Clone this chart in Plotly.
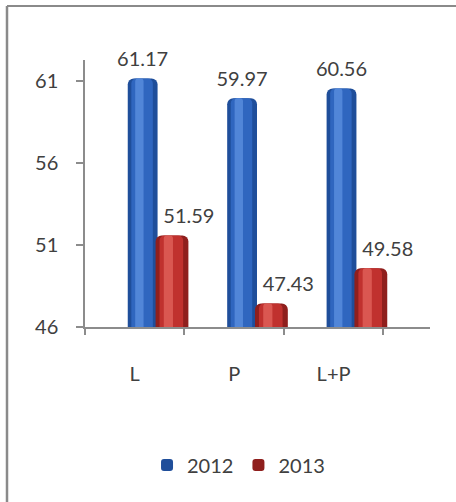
import plotly.graph_objects as go

categories = ["L", "P", "L+P"]
series_names = ["2012", "2013"]
values_2012 = [61.17, 59.97, 60.56]
values_2013 = [51.59, 47.43, 49.58]
y_ticks = [46, 51, 56, 61]

FONT = "Lato"
TXT = "#404040"
AX = "#8c8c8c"

idx = list(range(len(categories)))
bounds = [i - 0.5 for i in idx] + [idx[-1] + 0.5]

fig = go.Figure()

def cyl(vals, name, offset, width, dark, mid, light, label_dx):
    fig.add_trace(go.Bar(
        x=idx, y=vals, name=name, offset=offset, width=width,
        marker=dict(color=dark, line=dict(width=0), cornerradius=6),
        showlegend=True, hoverinfo="y",
    ))
    fig.add_trace(go.Bar(
        x=idx, y=vals, offset=offset + width * 0.12, width=width * 0.72,
        marker=dict(color=mid, line=dict(width=0), cornerradius=5),
        showlegend=False, hoverinfo="skip",
    ))
    fig.add_trace(go.Bar(
        x=idx, y=vals, offset=offset + width * 0.25, width=width * 0.28,
        marker=dict(color=light, line=dict(width=0), cornerradius=3, opacity=0.8),
        showlegend=False, hoverinfo="skip",
    ))
    return (vals, offset + width / 2 + label_dx)

lab_a = cyl(values_2012, series_names[0], -0.07, 0.30, "#1f4e9a", "#2f66bf", "#5a8fde", 0.0)
lab_b = cyl(values_2013, series_names[1], 0.21, 0.33, "#8f1f1d", "#c0312e", "#e0625a", 0.17)

# data labels drawn on top
for vals, dx in (lab_a, lab_b):
    fig.add_trace(go.Scatter(
        x=[i + dx for i in idx], y=vals, mode="markers+text",
        marker=dict(size=10, color="rgba(0,0,0,0)"),
        text=[f"{v:.2f}" for v in vals], textposition="top center",
        textfont=dict(family=FONT, size=20, color=TXT),
        cliponaxis=False, showlegend=False, hoverinfo="skip",
    ))

fig.update_layout(
    width=456, height=502,
    margin=dict(l=85, r=26, t=60, b=175),
    paper_bgcolor="white", plot_bgcolor="white",
    barmode="overlay",
    font=dict(family=FONT, size=20, color=TXT),
    showlegend=True,
    legend=dict(orientation="h", x=0.445, y=-0.517, xanchor="center", yanchor="middle",
                font=dict(family=FONT, size=20, color=TXT), itemwidth=30,
                traceorder="normal", bgcolor="rgba(0,0,0,0)"),
    xaxis=dict(range=[-0.5, 2.97], tickmode="array", tickvals=idx, ticktext=categories,
               ticks="", showline=True, linecolor=AX, linewidth=1.5, showgrid=False,
               zeroline=False,
               minor=dict(tickmode="array", tickvals=bounds, ticks="outside", ticklen=6,
                          tickcolor=AX, tickwidth=1.5, showgrid=False),
               ticklabelstandoff=28, tickfont=dict(family=FONT, size=20, color=TXT),
               fixedrange=True),
    yaxis=dict(range=[46, 62.3], tickmode="array", tickvals=y_ticks,
               ticktext=[str(t) for t in y_ticks],
               ticks="outside", ticklen=7, tickcolor=AX, tickwidth=1.5,
               showline=True, linecolor=AX, linewidth=1.5, showgrid=False,
               zeroline=False, ticklabelstandoff=14,
               tickfont=dict(family=FONT, size=20, color=TXT), fixedrange=True),
    shapes=[
        dict(type="line", xref="paper", yref="paper",
             x0=(7 - 85) / 345, x1=(460 - 85) / 345, y0=(327 - 6) / 267, y1=(327 - 6) / 267,
             line=dict(color="#8a8a8a", width=2)),
        dict(type="line", xref="paper", yref="paper",
             x0=(7 - 85) / 345, x1=(7 - 85) / 345, y0=(327 - 6) / 267, y1=(327 - 510) / 267,
             line=dict(color="#8a8a8a", width=2.5)),
    ],
)

fig.write_html("out.html", config={"displayModeBar": False},
               post_script="document.body.style.margin='0';")
